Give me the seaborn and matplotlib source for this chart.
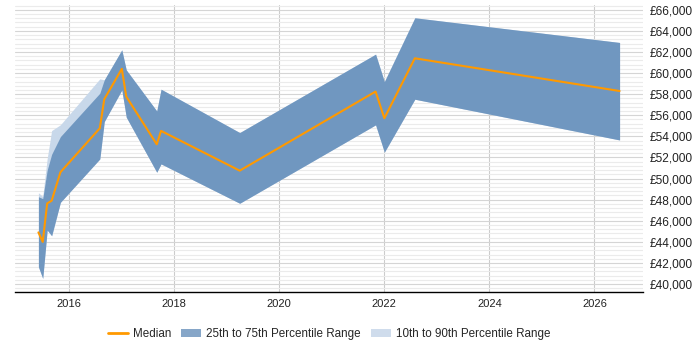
import pandas as pd
import numpy as np
import matplotlib.pyplot as plt
import matplotlib.dates as mdates
from matplotlib.lines import Line2D
from matplotlib.patches import Patch
from matplotlib.ticker import FuncFormatter, MultipleLocator
import seaborn as sns

# sample dates and salary percentiles
dates = ["2015-06-01", "2015-07-01", "2015-08-01", "2015-09-01", "2015-11-01",
         "2016-08-01", "2016-09-01", "2017-01-01", "2017-02-01", "2017-09-01",
         "2017-10-01", "2019-04-01", "2021-11-01", "2022-01-01", "2022-08-01",
         "2026-06-25"]
median = [44900, 44000, 47650, 47900, 50600, 54770, 57520, 60400, 57770, 53250,
          54520, 50750, 58250, 55720, 61400, 58300]
p25 = [41640, 40540, 45120, 44580, 47750, 51860, 55400, 58400, 55820, 50600,
       51390, 47660, 55090, 52500, 57520, 53660]
p75 = [48280, 48100, 50800, 52300, 53980, 58090, 59360, 62200, 60300, 56410,
       58470, 54360, 61790, 59190, 65240, 62900]
p10 = p25
p90 = [48660, 48300, 51900, 54550, 55100, 59450, 59360, 62200, 60300, 56410,
       58470, 54360, 61790, 59190, 65240, 62900]

df = pd.DataFrame({"date": pd.to_datetime(dates), "median": median,
                   "p10": p10, "p25": p25, "p75": p75, "p90": p90})

sns.set_theme(style="white")
plt.rcParams["font.family"] = ["Liberation Sans", "DejaVu Sans"]

orange = "#ff9900"
dark = "#7097c0"
light = "#c8d8ea"

fig = plt.figure(figsize=(7, 3.5), dpi=100)
ax = fig.add_axes([0.0214, 0.1657, 0.8972, 0.82])

ax.fill_between(df["date"], df["p10"], df["p90"], color=light, linewidth=0)
ax.fill_between(df["date"], df["p25"], df["p75"], color=dark, linewidth=0)
sns.lineplot(data=df, x="date", y="median", color=orange, linewidth=1.5, ax=ax)

ax.set_xlim(pd.Timestamp("2014-12-20"), pd.Timestamp("2026-12-05"))
ax.set_ylim(39250, 66450)

ax.xaxis.set_major_locator(mdates.YearLocator(2))
ax.xaxis.set_major_formatter(mdates.DateFormatter("%Y"))
ax.yaxis.set_major_locator(MultipleLocator(2000))
ax.yaxis.set_minor_locator(MultipleLocator(400))
ax.yaxis.set_major_formatter(FuncFormatter(lambda v, p: f"£{v:,.0f}"))
ax.yaxis.tick_right()

ax.grid(axis="x", which="major", color="#cccccc", linewidth=0.8)
ax.grid(axis="y", which="major", color="#d5d5d5", linewidth=0.8)
ax.grid(axis="y", which="minor", color="#ebebeb", linewidth=0.8)
ax.set_axisbelow(True)

ax.tick_params(axis="both", which="both", length=0, colors="#222222")
ax.tick_params(axis="x", labelsize=8, pad=5)
ax.tick_params(axis="y", labelsize=8.6, pad=5)
for side in ["left", "right", "top"]:
    ax.spines[side].set_visible(False)
ax.spines["bottom"].set_color("black")
ax.spines["bottom"].set_linewidth(1)
ax.set_xlabel("")
ax.set_ylabel("")

handles = [Line2D([0], [0], color=orange, linewidth=2),
           Patch(facecolor="#86a6c8", edgecolor="none"),
           Patch(facecolor="#cfdcec", edgecolor="none")]
labels = ["Median", "25th to 75th Percentile Range", "10th to 90th Percentile Range"]
fig.legend(handles, labels, loc="center", bbox_to_anchor=(0.47, 0.045), ncol=3,
           frameon=False, fontsize=8.4, handlelength=1.7, columnspacing=0.85,
           handletextpad=0.45)

fig.savefig("out.png", dpi=100)
